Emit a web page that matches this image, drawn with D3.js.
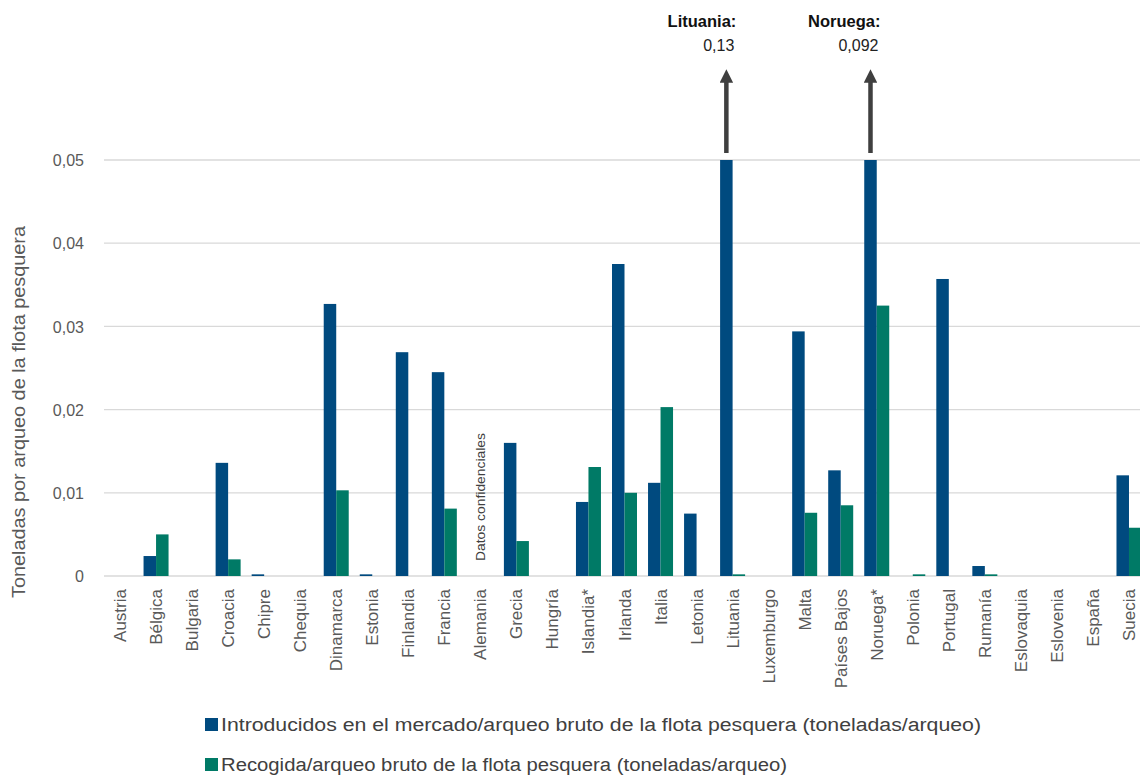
<!DOCTYPE html>
<html><head><meta charset="utf-8">
<script src="https://cdn.jsdelivr.net/npm/d3@7"></script>
<style>body{margin:0;background:#fff;overflow:hidden}svg{display:block}</style>
</head><body>
<svg id="c" width="1140" height="780"></svg>
<script>
const categories = ["Austria","Bélgica","Bulgaria","Croacia","Chipre","Chequia","Dinamarca","Estonia","Finlandia","Francia","Alemania","Grecia","Hungría","Islandia*","Irlanda","Italia","Letonia","Lituania","Luxemburgo","Malta","Países Bajos","Noruega*","Polonia","Portugal","Rumanía","Eslovaquia","Eslovenia","España","Suecia"];
const introducidos = [0,0.0024,0,0.0136,0.0002,0,0.0327,0.0002,0.0269,0.0245,null,0.0160,0,0.0089,0.0375,0.0112,0.0075,0.13,0,0.0294,0.0127,0.092,0,0.0357,0.0012,0,0,0,0.0121];
const recogida = [0,0.0050,0,0.0020,0,0,0.0103,0,0,0.0081,null,0.0042,0,0.0131,0.0100,0.0203,0,0.0002,0,0.0076,0.0085,0.0325,0.0002,0,0.0002,0,0,0,0.0058];
const yTicks = [0,0.01,0.02,0.03,0.04,0.05];
const seriesNames = ["Introducidos en el mercado/arqueo bruto de la flota pesquera (toneladas/arqueo)","Recogida/arqueo bruto de la flota pesquera (toneladas/arqueo)"];
const callouts = [{cat:"Lituania", label:"Lituania:", value:"0,13"},{cat:"Noruega*", label:"Noruega:", value:"0,092"}];
const confidential = {cat:"Alemania", text:"Datos confidenciales"};

const colors = ["#004a7f","#007a66"];
const FONT = "Liberation Sans, Arial, sans-serif";
const svg = d3.select("#c");
const x = d3.scaleBand().domain(categories).range([102,1147]).paddingInner(0).paddingOuter(0);
const x1 = d3.scaleBand().domain([0,1]).range([0,25]).padding(0);
const y = d3.scaleLinear().domain([0,0.05]).range([576,160]);
const fmt = v => v===0 ? "0" : d3.format(".2f")(v).replace(".",",");

// grid
svg.append("g").selectAll("line").data(yTicks).join("line")
  .attr("x1",104).attr("x2",1140).attr("y1",d=>y(d)).attr("y2",d=>y(d))
  .attr("stroke","#d9d9d9").attr("stroke-width",1.3);

// y axis labels
const yAxis = d3.axisLeft(y).tickValues(yTicks).tickFormat(fmt).tickSize(0).tickPadding(0);
const ga = svg.append("g").attr("transform","translate(84,0)").call(yAxis);
ga.select(".domain").remove();
ga.selectAll("text").attr("font-family",FONT).attr("font-size",16).attr("fill","#595959").attr("dy","0.35em");

// y title
svg.append("text").attr("transform","translate(25,412) rotate(-90)").attr("text-anchor","middle")
  .attr("font-family",FONT).attr("font-size",18).attr("fill","#595959")
  .attr("textLength",372).attr("lengthAdjust","spacingAndGlyphs")
  .text("Toneladas por arqueo de la flota pesquera");

// bars
svg.append("clipPath").attr("id","pc").append("rect").attr("x",0).attr("y",y(0.05)).attr("width",1140).attr("height",y(0)-y(0.05)+1);
const series=[introducidos,recogida];
const gb = svg.append("g").attr("clip-path","url(#pc)");
series.forEach((vals,si)=>{
  gb.selectAll(".b"+si).data(categories.map((c,i)=>({c,v:vals[i]})).filter(d=>d.v)).join("rect")
    .attr("x",d=>x(d.c)+(x.bandwidth()-25)/2+x1(si))
    .attr("width",x1.bandwidth())
    .attr("y",d=>y(Math.min(d.v,0.05)))
    .attr("height",d=>Math.max(y(0)-y(Math.min(d.v,0.05)),1.6))
    .attr("fill",colors[si]);
});

// x labels
svg.append("g").selectAll("text").data(categories).join("text")
  .attr("transform",d=>`translate(${x(d)+x.bandwidth()/2+6},589) rotate(-90)`)
  .attr("text-anchor","end")
  .attr("font-family",FONT).attr("font-size",17).attr("fill","#595959")
  .text(d=>d);

// confidential note
svg.append("text").attr("transform",`translate(${x(confidential.cat)+x.bandwidth()/2+5},561) rotate(-90)`)
  .attr("font-family",FONT).attr("font-size",12).attr("fill","#404040")
  .attr("textLength",128).attr("lengthAdjust","spacingAndGlyphs")
  .text(confidential.text);

// callouts
const defs = svg.append("defs");
defs.append("marker").attr("id","ah").attr("viewBox","0 0 10 10").attr("refX",5).attr("refY",5)
  .attr("markerWidth",3).attr("markerHeight",3).attr("orient","auto")
  .append("path").attr("d","M0,0 L10,5 L0,10 z").attr("fill","#3f3f3f");
callouts.forEach(c=>{
  const cx = x(c.cat)+(x.bandwidth()-25)/2+x1(0)+x1.bandwidth()/2;
  svg.append("line").attr("x1",cx).attr("x2",cx).attr("y1",y(0.05)-7).attr("y2",76)
    .attr("stroke","#3f3f3f").attr("stroke-width",4.5).attr("marker-end","url(#ah)");
  svg.append("text").attr("x",cx+10).attr("y",27).attr("text-anchor","end")
    .attr("font-family",FONT).attr("font-weight","bold").attr("font-size",16.5).attr("fill","#111")
    .text(c.label);
  svg.append("text").attr("x",cx+8).attr("y",51).attr("text-anchor","end")
    .attr("font-family",FONT).attr("font-size",16).attr("fill","#222")
    .text(c.value);
});

// legend
const lg = svg.append("g");
const legW = [760,566];
seriesNames.forEach((n,i)=>{
  const yy = 725 + i*40;
  lg.append("rect").attr("x",205).attr("y",yy-7).attr("width",13).attr("height",13).attr("fill",colors[i]);
  lg.append("text").attr("x",221).attr("y",yy+6)
    .attr("font-family",FONT).attr("font-size",18).attr("fill","#404040")
    .attr("textLength",legW[i]).attr("lengthAdjust","spacingAndGlyphs")
    .text(n);
});
</script>
</body></html>
